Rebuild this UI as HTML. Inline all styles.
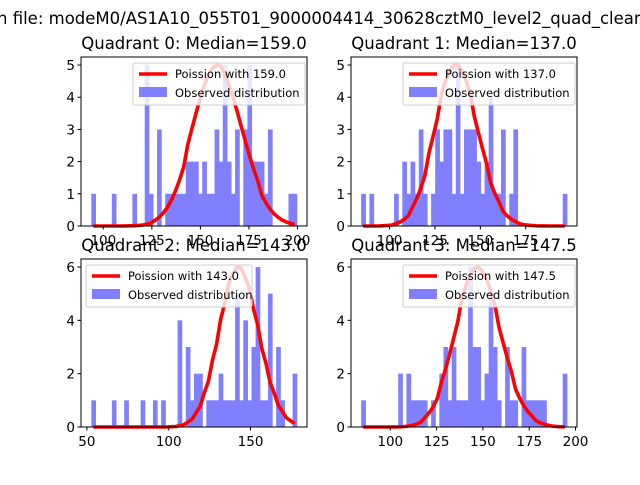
<!DOCTYPE html>
<html><head><meta charset="utf-8"><style>
body{margin:0;background:#fff;}
svg text{font-family:"DejaVu Sans","Liberation Sans",sans-serif;}
</style></head><body>
<svg id="chart" width="640" height="480" viewBox="0 0 640 480">
<text x="-3" y="24" font-size="16.5">n file: modeM0/AS1A10_055T01_9000004414_30628cztM0_level2_quad_clean</text>
</svg>
<script>
const titles=["Quadrant 0: Median=159.0","Quadrant 1: Median=137.0","Quadrant 2: Median=143.0","Quadrant 3: Median=147.5"];
const medians=[159.0,137.0,143.0,147.5];
const dataMin=[93.8,84.4,52.7,84.3];
const dataMax=[199.6,197.6,178.2,195.3];
const counts0=[1,0,0,0,0,1,0,0,0,0,1,0,0,5,1,0,3,0,1,1,1,1,1,2,2,2,1,2,1,1,3,2,5,2,1,3,0,3,5,2,2,2,1,3,0,0,0,0,1,1];
const counts1=[1,0,1,0,0,0,0,0,1,0,2,1,2,1,3,1,0,1,3,2,3,3,1,5,1,3,3,3,2,1,2,4,1,1,3,0,1,3,0,0,0,0,0,0,0,0,0,0,0,1];
const counts2=[1,0,0,0,0,1,0,0,1,0,0,0,1,0,0,1,0,1,0,0,0,4,0,3,1,2,2,0,1,1,1,2,1,1,1,5,1,4,1,3,6,1,1,5,0,3,1,0,0,2];
const counts3=[1,0,0,0,0,0,0,0,0,2,0,2,1,1,1,1,0,1,0,2,3,1,3,1,1,1,6,3,3,1,2,5,3,1,0,3,1,1,0,3,1,1,1,1,1,0,0,0,0,2];
const yMaxs=[5.25,5.25,6.3,6.3];
const yTicks0=[0,1,2,3,4,5];
const yTicks1=[0,1,2,3,4,5];
const yTicks2=[0,2,4,6];
const yTicks3=[0,2,4,6];
const xTicks0=[100,125,150,175,200];
const xTicks1=[100,125,150,175];
const xTicks2=[50,100,150];
const xTicks3=[100,125,150,175,200];
const curvePeaks=[5.0,5.0,6.0,6.0];
const xDom=[[88.5,204.9],[78.8,203.2],[46.4,184.5],[78.8,200.8]];

const allCounts=[counts0,counts1,counts2,counts3];
const allY=[yTicks0,yTicks1,yTicks2,yTicks3];
const allX=[xTicks0,xTicks1,xTicks2,xTicks3];
const boxes=[[81,57,307,226],[351,57,577,226],[81,259,307,427],[351,259,577,427]];
const legends=[[133,63,172],[403,63,172],[86,265,166],[403,265,172]];
const NS="http://www.w3.org/2000/svg";
const svg=document.getElementById('chart');
function mk(tag,attrs,parent){const e=document.createElementNS(NS,tag);for(const k in attrs)e.setAttribute(k,attrs[k]);(parent||svg).appendChild(e);return e;}
function lnPmf(k,l){let s=0;for(let i=2;i<=k;i++)s+=Math.log(i);return k*Math.log(l)-l-s;}

for(let q=0;q<4;q++){
  const [x0,y0,x1,y1]=boxes[q];
  const g=mk('g',{});
  
  
  const xs=v=>x0+(v-xDom[q][0])/(xDom[q][1]-xDom[q][0])*(x1-x0);
  const ys=v=>y1-v/yMaxs[q]*(y1-y0);
  const c=allCounts[q];const n=c.length;const w=(dataMax[q]-dataMin[q])/n;
  for(let i=0;i<n;i++){ if(!c[i])continue;
    const r=mk('rect',{x:xs(dataMin[q]+i*w),y:ys(c[i]),width:xs(dataMin[q]+(i+1)*w)-xs(dataMin[q]+i*w)+0.6,height:ys(0)-ys(c[i]),fill:'#8080ff'},g);
    
    
  }
  const lam=medians[q];const ctr=[];let mx=0;
  for(let i=0;i<n;i++){const x=dataMin[q]+(i+0.5)*w;const p=Math.exp(lnPmf(Math.round(x),lam));ctr.push([x,p]);mx=Math.max(mx,p);}
  const pts=ctr.map(([x,p])=>xs(x).toFixed(1)+','+ys(p/mx*curvePeaks[q]).toFixed(1)).join(' ');
  const pl=mk('polyline',{points:pts,fill:'none',stroke:'#ff0000','stroke-width':3.6,'stroke-linejoin':'round'},g);
  
  
  const fr=mk('rect',{x:x0,y:y0,width:x1-x0,height:y1-y0,fill:'none',stroke:'#000','stroke-width':1},g);
  
  
  allY[q].forEach(t=>{const y=ys(t);mk('line',{x1:x0-3.5,x2:x0,y1:y,y2:y,stroke:'#000'},g);
    const tx=mk('text',{x:x0-6,y:y+5,'font-size':'13.5','text-anchor':'end'},g);tx.textContent=t;
    
    });
  allX[q].forEach(t=>{const x=xs(t);mk('line',{x1:x,x2:x,y1:y1,y2:y1+3.5,stroke:'#000'},g);
    const tx=mk('text',{x:x,y:y1+19,'font-size':'13.5','text-anchor':'middle'},g);tx.textContent=t;
    
    });
  const tt=mk('text',{x:(x0+x1)/2,y:y0-8,'font-size':'16.5','text-anchor':'middle'},g);tt.textContent=titles[q];
  
  
  const [lx,ly,lw]=legends[q];
  const lg=mk('g',{},g);
  
  
  mk('rect',{x:lx,y:ly,width:lw,height:42,rx:2,fill:'#fff','fill-opacity':0.8,stroke:'#ccc'},lg);
  mk('line',{x1:lx+6,x2:lx+34,y1:ly+11,y2:ly+11,stroke:'#f00','stroke-width':3.6},lg);
  mk('rect',{x:lx+6,y:ly+24,width:28,height:10,fill:'#8080ff'},lg);
  const l1=mk('text',{x:lx+42,y:ly+15,'font-size':'11.5'},lg);l1.textContent='Poission with '+medians[q].toFixed(1);
  
  
  const l2=mk('text',{x:lx+42,y:ly+34,'font-size':'11.5'},lg);l2.textContent='Observed distribution';
  
  
}
</script>
</body></html>
